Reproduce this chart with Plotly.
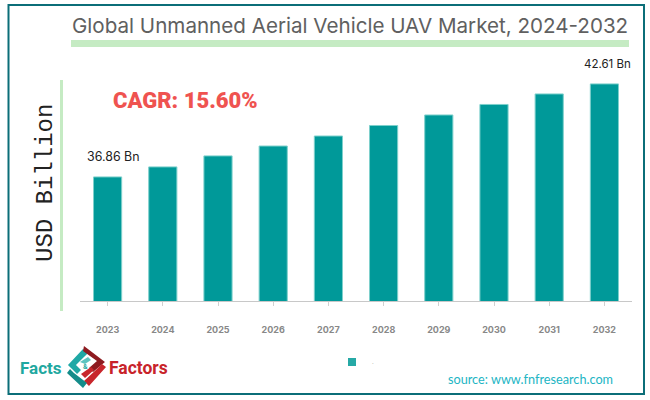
import plotly.graph_objects as go

years = ["2023", "2024", "2025", "2026", "2027", "2028", "2029", "2030", "2031", "2032"]
market = [36.86, 37.48, 38.16, 38.77, 39.39, 40.04, 40.69, 41.34, 41.99, 42.61]
labels = {"2023": "36.86 Bn", "2032": "42.61 Bn"}

W, H = 650, 400
TEAL = "#009999"


# pixel position to paper fractions, only used for the page furniture
def px(x):
    return x / W


def py(y):
    return 1 - y / H


def path(points):
    return "M" + " L".join(f"{px(x):.4f},{py(y):.4f}" for x, y in points) + " Z"


fig = go.Figure()
fig.add_trace(go.Bar(
    x=years, y=market, name=".", showlegend=False,
    marker=dict(color=TEAL, line=dict(color="#7ED0CC", width=1)),
))
# legend entry, square as in the original
fig.add_trace(go.Scatter(
    x=[None], y=[None], mode="markers", name=".",
    marker=dict(symbol="square", size=8, color="#26A9A6"),
))

shapes = [
    # frame
    dict(type="rect", xref="paper", yref="paper", x0=px(8.5), x1=px(644), y0=py(5), y1=py(394),
         line=dict(color="#0B6E78", width=2), fillcolor="rgba(0,0,0,0)"),
    # green rules
    dict(type="rect", xref="paper", yref="paper", x0=px(71), x1=px(629), y0=py(40), y1=py(47),
         line=dict(width=0), fillcolor="#C5EBC3"),
    dict(type="rect", xref="paper", yref="paper", x0=px(60), x1=px(63), y0=py(80), y1=py(311),
         line=dict(width=0), fillcolor="#C5EBC3"),
]

# logo chevrons
logo = [
    ([(83, 349), (88, 353), (76, 365), (81, 370), (77, 374), (68, 365)], "#1FA8A5"),
    ([(84, 346), (105, 362), (93, 372), (89, 368), (97, 361), (83, 351)], "#8E1B20"),
    ([(102, 364), (106, 367), (89, 386), (84, 381), (97, 369)], "#C8262C"),
    ([(70, 369), (74, 373), (87, 383), (83, 388), (67, 373)], "#148C8A"),
    ([(88, 357), (91, 360), (85, 364), (80, 362)], "#5CC4C0"),
    ([(91, 367), (94, 370), (85, 378), (81, 374)], "#C8262C"),
]
for pts, col in logo:
    shapes.append(dict(type="path", xref="paper", yref="paper", path=path(pts),
                       line=dict(width=0), fillcolor=col))

annotations = [
    dict(x=px(350), y=py(25), text="Global Unmanned Aerial Vehicle UAV Market, 2024-2032",
         font=dict(family="Inter", size=20.6, color="#606060")),
    dict(x=px(45), y=py(183), text="USD Billion", textangle=-90,
         font=dict(family="Liberation Mono", size=24, color="#222222")),
    dict(x=px(185), y=py(101), text="CAGR: 15.60%",
         font=dict(family="Roboto", size=22, color="#EF5350", weight=900)),
    dict(x=px(41), y=py(368), text="<b>Facts</b>",
         font=dict(family="Roboto", size=17, color="#1FA8A0")),
    dict(x=px(138.5), y=py(368), text="<b>Factors</b>",
         font=dict(family="Roboto", size=17.5, color="#C8232A")),
    dict(x=px(85), y=py(367), text="<b>&amp;</b>",
         font=dict(family="Roboto", size=7, color="#1FA8A0")),
    dict(x=px(530.5), y=py(379), text="source: www.fnfresearch.com",
         font=dict(family="Lato", size=12.7, color="#22B5C4")),
]
for a in annotations:
    a.update(xref="paper", yref="paper", showarrow=False, xanchor="center", yanchor="middle")

# numeric looking categories have to be given by index here
for yr, txt in labels.items():
    i = years.index(yr)
    annotations.append(dict(
        x=i, y=market[i], xref="x", yref="y", text=txt, showarrow=False,
        yanchor="middle", yshift=20, xshift=5 if i == 0 else 3,
        font=dict(family="Inter", size=12.4 if i == 0 else 11.5, color="#222222"),
    ))

fig.update_layout(
    width=W, height=H,
    margin=dict(l=0, r=0, t=0, b=0),
    paper_bgcolor="white", plot_bgcolor="white",
    bargap=0.49,
    shapes=shapes, annotations=annotations,
    showlegend=True,
    legend=dict(x=px(332), y=py(362), xanchor="left", yanchor="middle",
                font=dict(family="Inter", size=6, color="#888888"),
                bgcolor="rgba(0,0,0,0)", itemwidth=30),
    xaxis=dict(
        domain=[px(80), px(632)], type="category", range=[-0.5, 9.5],
        showline=True, linecolor="#C8C8C8", linewidth=1,
        ticks="outside", ticklen=4, tickcolor="#D0D0D0",
        ticklabelstandoff=16,
        tickfont=dict(family="Inter", size=9, color="#888888", weight="bold"),
        anchor="y",
    ),
    yaxis=dict(
        domain=[py(301), py(70)], range=[29.19, 43.47],
        visible=False, showgrid=False,
    ),
)

# browser default body margin would push the chart 8px off
fig.write_html("out.html", config={"displayModeBar": False},
               post_script="document.body.style.margin='0';")
